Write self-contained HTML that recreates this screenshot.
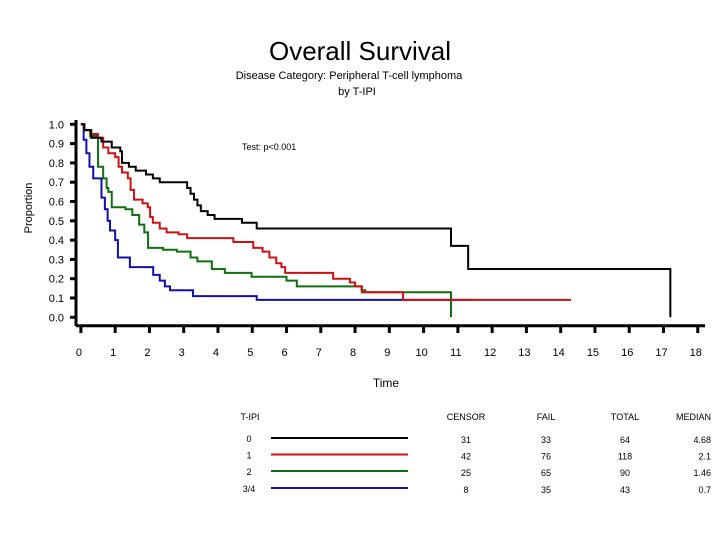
<!DOCTYPE html>
<html><head><meta charset="utf-8"><style>
body{margin:0;background:#fff;}
svg{display:block;font-family:"Liberation Sans",Arial,sans-serif;}
</style></head><body>
<svg id="chart" width="720" height="540" viewBox="0 0 720 540">
<text x="360" y="60" font-size="26" text-anchor="middle">Overall Survival</text>
<text x="349" y="79" font-size="11" text-anchor="middle">Disease Category: Peripheral T-cell lymphoma</text>
<text x="357" y="95" font-size="11" text-anchor="middle">by T-IPI</text>
<text x="242" y="150" font-size="9">Test: p&lt;0.001</text>
<text transform="translate(32,208) rotate(-90)" font-size="11" text-anchor="middle">Proportion</text>
<text x="386" y="387" font-size="12" text-anchor="middle">Time</text>
<g id="axes"></g>
<g id="series"></g>
<g id="table" font-size="9"></g>
</svg>
<script>
const xTicks=[0,1,2,3,4,5,6,7,8,9,10,11,12,13,14,15,16,17,18];
const yTicks=[0,0.1,0.2,0.3,0.4,0.5,0.6,0.7,0.8,0.9,1.0];
const groups=["0","1","2","3/4"];
const colors=["#000000","#d01010","#107010","#1010b0"];
const censor=[31,42,25,8];
const fail=[33,76,65,35];
const total=[64,118,90,43];
const median=["4.68","2.1","1.46","0.7"];
const blackT=[0,0.1,0.3,0.6,0.9,1.15,1.2,1.4,1.6,1.9,2.1,2.3,3.1,3.2,3.3,3.4,3.5,3.7,3.9,4.7,5.13,10.8,11.3,17.2];
const blackS=[1,0.97,0.93,0.91,0.88,0.86,0.8,0.78,0.76,0.74,0.72,0.7,0.67,0.64,0.61,0.58,0.55,0.53,0.51,0.49,0.46,0.37,0.25,0];
const redT=[0,0.1,0.3,0.5,0.65,0.8,1.0,1.1,1.2,1.37,1.45,1.55,1.8,1.95,2.02,2.1,2.3,2.5,2.85,3.1,4.45,5.03,5.3,5.5,5.7,5.85,5.96,7.36,7.85,8.0,8.2,9.4,14.3];
const redS=[1,0.97,0.95,0.93,0.88,0.85,0.83,0.78,0.75,0.72,0.66,0.61,0.59,0.57,0.52,0.49,0.46,0.44,0.43,0.41,0.39,0.36,0.34,0.31,0.28,0.26,0.23,0.2,0.18,0.16,0.13,0.09,0.09];
const greenT=[0,0.1,0.27,0.5,0.65,0.75,0.8,0.9,1.3,1.5,1.7,1.85,1.96,2.4,2.8,3.2,3.4,3.82,4.2,4.98,6.0,6.3,8.19,8.3,10.8];
const greenS=[1,0.97,0.94,0.78,0.72,0.67,0.65,0.57,0.56,0.53,0.48,0.44,0.36,0.35,0.34,0.31,0.29,0.25,0.23,0.21,0.19,0.16,0.14,0.13,0];
const blueT=[0,0.08,0.16,0.25,0.36,0.6,0.7,0.78,0.85,1.0,1.08,1.43,2.11,2.3,2.45,2.6,3.27,5.13,11.4];
const blueS=[1,0.92,0.85,0.78,0.72,0.62,0.56,0.5,0.45,0.4,0.31,0.26,0.22,0.19,0.16,0.14,0.11,0.09,0.09];
const ns="http://www.w3.org/2000/svg";
const X=t=>80.9+t*34.27;
const Y=s=>317.3-s*193;
function el(tag,attrs,parent){const e=document.createElementNS(ns,tag);for(const k in attrs)e.setAttribute(k,attrs[k]);parent.appendChild(e);return e;}
const axes=document.getElementById('axes');
let a=el('line',{x1:76,y1:120,x2:76,y2:326,stroke:'#000','stroke-width':3},axes);


a=el('line',{x1:76,y1:325.7,x2:705,y2:325.7,stroke:'#000','stroke-width':3},axes);


yTicks.forEach(v=>{
  const t=el('line',{x1:70,y1:Y(v),x2:76,y2:Y(v),stroke:'#000','stroke-width':3},axes);
  
  
  const l=el('text',{x:64,y:Y(v)+4,'font-size':11,'text-anchor':'end'},axes);
  l.textContent=v.toFixed(1);
  
  
});
xTicks.forEach(v=>{
  const t=el('line',{x1:X(v),y1:325,x2:X(v),y2:333,stroke:'#000','stroke-width':3},axes);
  
  
  const l=el('text',{x:X(v)-2,y:356,'font-size':11,'text-anchor':'middle'},axes);
  l.textContent=v;
  
  
});
function stepPath(T,S){let d='M'+X(T[0])+','+Y(S[0]);for(let i=1;i<T.length;i++){d+=' H'+X(T[i])+' V'+Y(S[i]);}return d;}
const series=document.getElementById('series');
const data=[[blackT,blackS],[redT,redS],[greenT,greenS],[blueT,blueS]];
const names=['curve-tipi-0','curve-tipi-1','curve-tipi-2','curve-tipi-3-4'];
[3,2,1,0].forEach(i=>{
  const p=el('path',{d:stepPath(data[i][0],data[i][1]),fill:'none',stroke:colors[i],'stroke-width':2},series);
  
  
});
const tb=document.getElementById('table');
const hdr=[["T-IPI",250,'middle'],["CENSOR",466,'middle'],["FAIL",546,'middle'],["TOTAL",625,'middle'],["MEDIAN",711,'end']];
hdr.forEach(h=>{const t=el('text',{x:h[1],y:420,'text-anchor':h[2]},tb);t.textContent=h[0];
  
  });
const rowY=[438,454.5,471,488];
groups.forEach((g,i)=>{
  const y=rowY[i];
  let t=el('text',{x:249,y:y+4,'text-anchor':'middle'},tb);t.textContent=g;
  
  
  const l=el('line',{x1:271,y1:y,x2:408,y2:y,stroke:colors[i],'stroke-width':2},tb);
  
  
  [[censor[i],466,'middle'],[fail[i],546,'middle'],[total[i],625,'middle'],[median[i],711,'end']].forEach(c=>{
    const tt=el('text',{x:c[1],y:y+5,'text-anchor':c[2]},tb);tt.textContent=c[0];
    
    
  });
});
</script>
</body></html>
